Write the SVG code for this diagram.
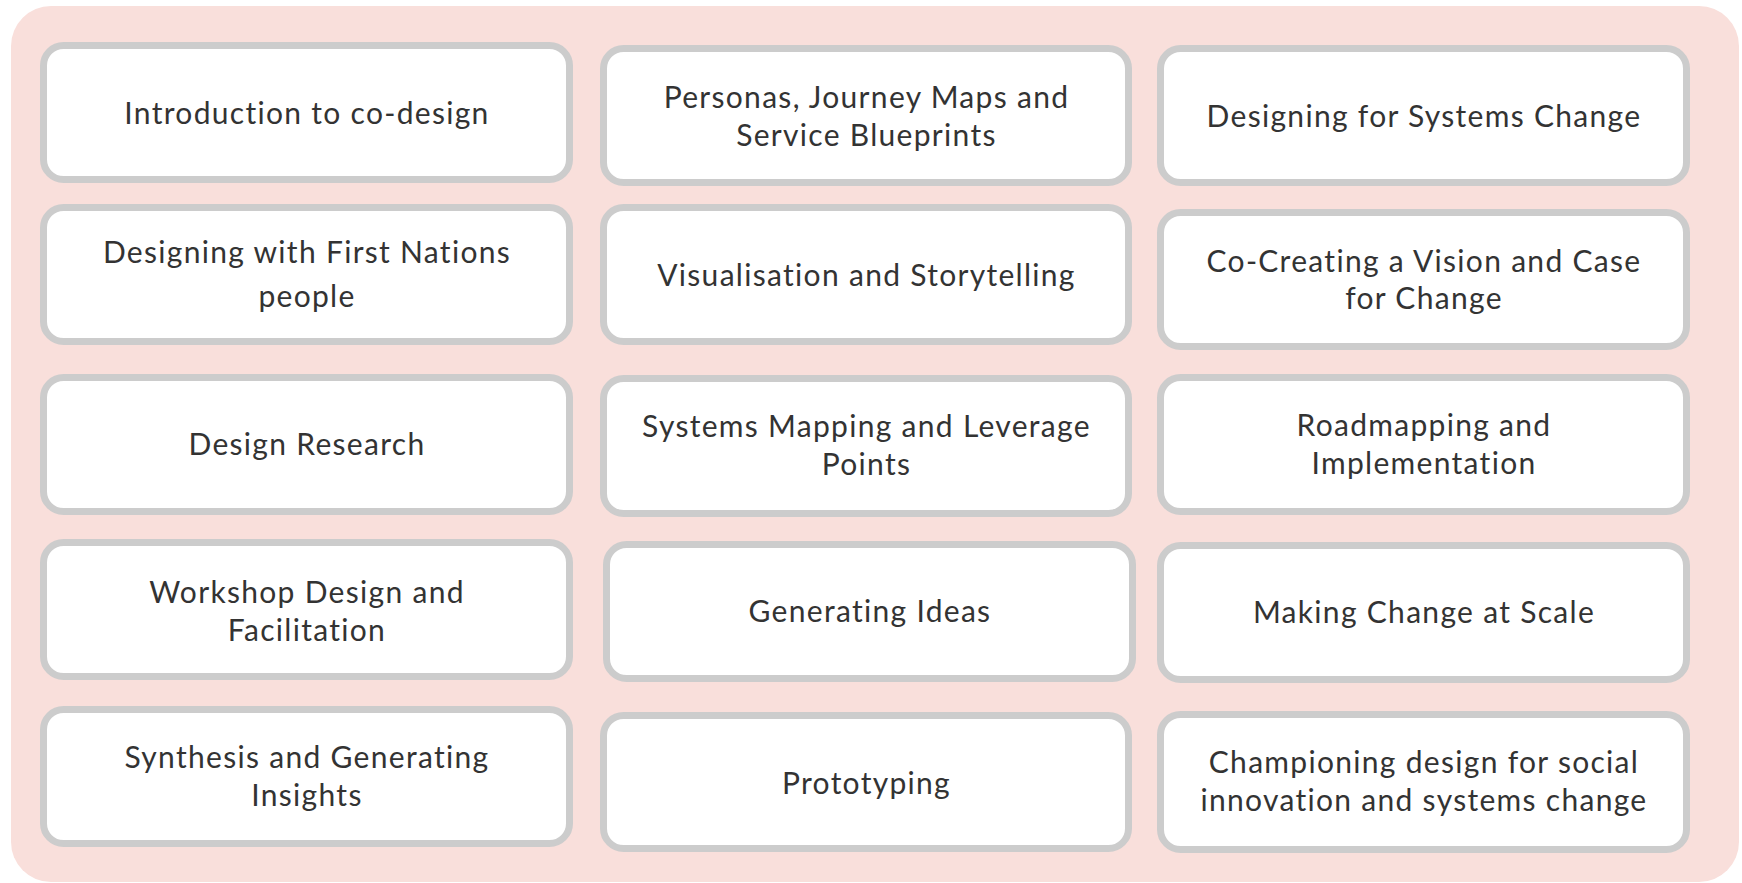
<svg xmlns="http://www.w3.org/2000/svg" width="1742" height="883" viewBox="0 0 1742 883">
<style>
.bg{fill:#f9dfdb}
.box{fill:#ffffff;stroke:#cccccc;stroke-width:7}
.t{font-family:Lato,"Noto Sans",sans-serif;font-size:30px;font-weight:400;letter-spacing:1.3px;fill:#333333;text-anchor:middle}
</style>
<rect class="bg" x="11" y="6" width="1728" height="876" rx="40" ry="40"/>
<g id="connectors"></g>
<g id="n1"><rect class="box" x="43.5" y="45.5" width="526" height="134" rx="20"/><text class="t" x="307" y="124">Introduction to co-design</text></g>
<g id="n2"><rect class="box" x="603.5" y="48.5" width="525" height="134" rx="20"/><text class="t" x="866.5" y="108">Personas, Journey Maps and</text><text class="t" x="866.5" y="146">Service Blueprints</text></g>
<g id="n3"><rect class="box" x="1160.5" y="48.5" width="526" height="134" rx="20"/><text class="t" x="1424" y="127">Designing for Systems Change</text></g>
<g id="n4"><rect class="box" x="43.5" y="207.5" width="526" height="134" rx="20"/><text class="t" x="307" y="263">Designing with First Nations</text><text class="t" x="307" y="307">people</text></g>
<g id="n5"><rect class="box" x="603.5" y="207.5" width="525" height="134" rx="20"/><text class="t" x="866.5" y="286">Visualisation and Storytelling</text></g>
<g id="n6"><rect class="box" x="1160.5" y="212.5" width="526" height="134" rx="20"/><text class="t" x="1424" y="272">Co-Creating a Vision and Case</text><text class="t" x="1424" y="309">for Change</text></g>
<g id="n7"><rect class="box" x="43.5" y="377.5" width="526" height="134" rx="20"/><text class="t" x="307" y="455">Design Research</text></g>
<g id="n8"><rect class="box" x="603.5" y="378.5" width="525" height="135" rx="20"/><text class="t" x="866.5" y="437">Systems Mapping and Leverage</text><text class="t" x="866.5" y="475">Points</text></g>
<g id="n9"><rect class="box" x="1160.5" y="377.5" width="526" height="134" rx="20"/><text class="t" x="1424" y="436">Roadmapping and</text><text class="t" x="1424" y="474">Implementation</text></g>
<g id="n10"><rect class="box" x="43.5" y="542.5" width="526" height="134" rx="20"/><text class="t" x="307" y="603">Workshop Design and</text><text class="t" x="307" y="641">Facilitation</text></g>
<g id="n11"><rect class="box" x="606.5" y="544.5" width="526" height="134" rx="20"/><text class="t" x="870" y="622">Generating Ideas</text></g>
<g id="n12"><rect class="box" x="1160.5" y="545.5" width="526" height="134" rx="20"/><text class="t" x="1424" y="623">Making Change at Scale</text></g>
<g id="n13"><rect class="box" x="43.5" y="709.5" width="526" height="134" rx="20"/><text class="t" x="307" y="768">Synthesis and Generating</text><text class="t" x="307" y="806">Insights</text></g>
<g id="n14"><rect class="box" x="603.5" y="715.5" width="525" height="133" rx="20"/><text class="t" x="866.5" y="794">Prototyping</text></g>
<g id="n15"><rect class="box" x="1160.5" y="714.5" width="526" height="135" rx="20"/><text class="t" x="1424" y="773">Championing design for social</text><text class="t" x="1424" y="811">innovation and systems change</text></g>
</svg>
